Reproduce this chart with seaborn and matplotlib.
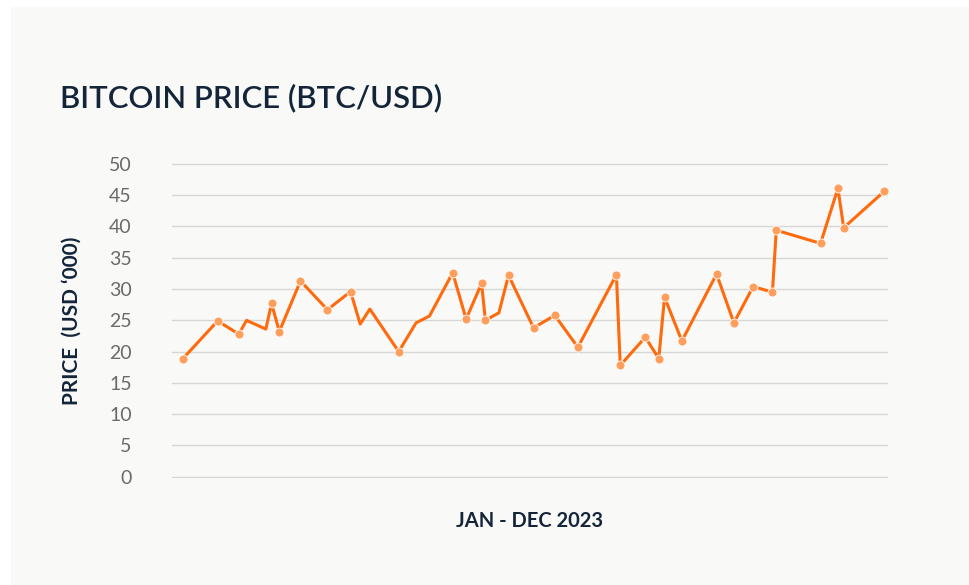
import seaborn as sns
import matplotlib.pyplot as plt
import pandas as pd
from matplotlib.patches import Rectangle

# day of year (2023) and price in thousands of USD
days = [1, 19, 30, 34, 44, 47, 51, 62, 76, 88, 93, 98, 113, 122, 129, 141, 148,
        156, 158, 165, 170, 183, 194, 206, 226, 228, 241, 248, 251, 260, 278,
        287, 297, 307, 309, 332, 341, 344, 365]
price = [18.9, 24.9, 22.8, 25.0, 23.6, 27.7, 23.2, 31.3, 26.7, 29.6, 24.4, 26.8,
         20.0, 24.6, 25.7, 32.6, 25.2, 30.9, 25.0, 26.2, 32.2, 23.8, 25.8, 20.7,
         32.3, 17.8, 22.3, 18.9, 28.7, 21.7, 32.4, 24.6, 30.4, 29.5, 39.4, 37.3,
         46.1, 39.8, 45.6]
# vertices that carry a dot
marked = [1, 1, 1, 0, 0, 1, 1, 1, 1, 1, 0, 0, 1, 0, 0, 1, 1, 1, 1, 0, 1, 1, 1,
          1, 1, 1, 1, 1, 1, 1, 1, 1, 1, 1, 1, 1, 1, 1, 1]
yticks = [0, 5, 10, 15, 20, 25, 30, 35, 40, 45, 50]

df = pd.DataFrame({'day': days, 'price': price, 'marked': marked})
dots = df[df['marked'] == 1]

sns.set_style('white')
plt.rcParams['font.family'] = ['Lato', 'DejaVu Sans']

navy = '#14253a'
fig = plt.figure(figsize=(9.7, 5.85), dpi=100)
fig.patch.set_facecolor('white')
fig.patches.append(Rectangle((11 / 970, 0), 1, 1 - 7 / 585, transform=fig.transFigure,
                             facecolor='#f9f9f7', edgecolor='none', zorder=-10))

ax = fig.add_axes([172 / 970, 1 - 477.7 / 585, 716 / 970, 314.4 / 585])
ax.set_facecolor('none')

sns.lineplot(data=df, x='day', y='price', ax=ax, color='#ff6a0d', linewidth=2.2,
             zorder=3)
sns.scatterplot(data=dots, x='day', y='price', ax=ax, color='#ff9f5e', s=42,
                edgecolor='white', linewidth=0.6, zorder=4)

ax.set_xlim(-4.7, 367)
ax.set_ylim(-0.15, 50.1)
ax.set_yticks(yticks)
ax.set_xticks([])
ax.yaxis.grid(True, color='#d6d6d6', linewidth=1)
ax.set_axisbelow(True)
for s in ax.spines.values():
    s.set_visible(False)
ax.tick_params(axis='y', length=0, pad=29, labelsize=14, labelcolor='#6a6a6a')

ax.set_xlabel('JAN - DEC 2023', fontsize=14.5, fontweight='bold', color=navy,
              labelpad=24)
ax.set_ylabel('PRICE  (USD \u2018000)', fontsize=15, fontweight='bold',
              color=navy, labelpad=20)

fig.text(60 / 970, 1 - 107 / 585, 'BITCOIN PRICE (BTC/USD)', fontsize=22.4,
         fontweight='semibold', color=navy, ha='left', va='baseline')

fig.savefig('out.png', dpi=100)
